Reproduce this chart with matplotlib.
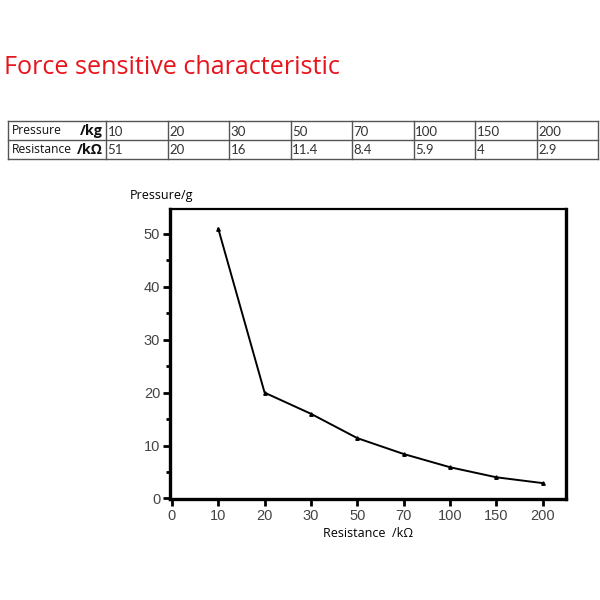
import matplotlib
matplotlib.use("Agg")
import matplotlib.pyplot as plt
from matplotlib.ticker import MultipleLocator
import numpy as np

title = "Force sensitive characteristic"
pressure_kg = [10, 20, 30, 50, 70, 100, 150, 200]
resistance_kohm = [51, 20, 16, 11.4, 8.4, 5.9, 4, 2.9]
x_tick_labels = ["0", "10", "20", "30", "50", "70", "100", "150", "200"]
row_headers = [("Pressure", "/kg"), ("Resistance", "/k\u03a9")]

W, H = 600, 600
fig = plt.figure(figsize=(6, 6), dpi=100)

def fx(px):
    return px / W

def fy(py):
    return 1 - py / H

# Title
fig.text(fx(4), fy(67), title, color="#e8141c", fontsize=18.1,
         family="Open Sans", va="center", ha="left")

# Table
tab_ax = fig.add_axes([0, 0, 1, 1])
tab_ax.set_xlim(0, W)
tab_ax.set_ylim(H, 0)
tab_ax.axis("off")
left, first_w, right = 8, 98, 598
col_w = (right - left - first_w) / len(pressure_kg)
top, rh = 121, 19
edges = [left, left + first_w] + [left + first_w + col_w * (i + 1) for i in range(len(pressure_kg))]
lc = "#555555"
for r in range(3):
    tab_ax.plot([left, right], [top + r * rh] * 2, color=lc, lw=1.0)
for e in edges:
    tab_ax.plot([e, e], [top, top + 2 * rh], color=lc, lw=1.0)
rows = [pressure_kg, resistance_kohm]
for r, vals in enumerate(rows):
    yc = top + r * rh + rh / 2
    name, unit = row_headers[r]
    tab_ax.text(left + 4, yc, name, fontsize=8.7, family="Open Sans",
                va="center", ha="left", color="#111111")
    tab_ax.text(left + first_w - 3, yc, unit, fontsize=10.3, family="Open Sans",
                fontweight="bold", va="center", ha="right", color="#111111")
    for i, v in enumerate(vals):
        tab_ax.text(edges[i + 1] + 1.5, yc + 1, f"{v:g}", fontsize=9.5, family="Lato",
                    va="center", ha="left", color="#333333")

# Chart
ax = fig.add_axes([fx(170), fy(499), fx(566 - 170), fy(209) - fy(499)])
xs = np.arange(1, len(resistance_kohm) + 1)
ax.plot(xs, resistance_kohm, color="black", lw=1.4, marker="^", ms=2.5)
ax.set_xlim(-0.04, 8.5)
ax.set_ylim(-0.1, 54.7)
ax.set_xticks(np.arange(len(x_tick_labels)))
ax.set_xticklabels(x_tick_labels)
ax.set_yticks(np.arange(0, 51, 10))
ax.yaxis.set_minor_locator(MultipleLocator(5))
for name, s in ax.spines.items():
    s.set_linewidth(1.6 if name == "top" else 2.4)
ax.tick_params(axis="both", which="major", direction="out", length=5, width=2,
               labelsize=10.5, labelcolor="#444444", pad=2)
ax.tick_params(axis="y", which="minor", direction="out", length=3, width=2)
for lab in ax.get_xticklabels() + ax.get_yticklabels():
    lab.set_family("Liberation Sans")
ax.set_xlabel("Resistance  /k\u03a9", fontsize=9, family="Open Sans", labelpad=3)
fig.text(fx(130), fy(195), "Pressure/g", fontsize=9, family="Open Sans",
         va="center", ha="left")

fig.savefig("out.png", dpi=100)
